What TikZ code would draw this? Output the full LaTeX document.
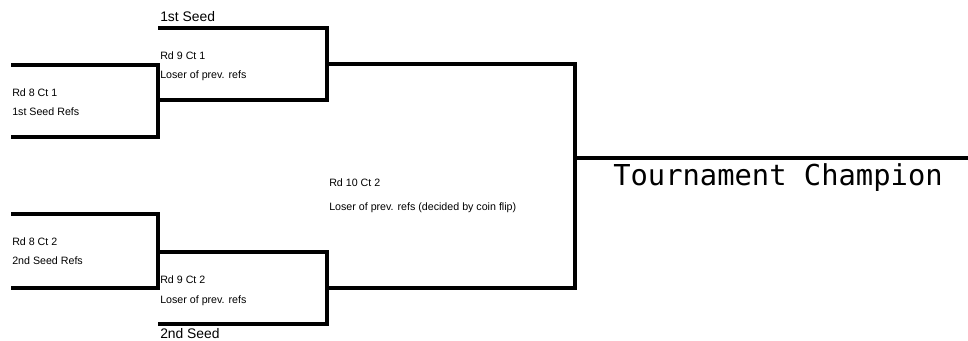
\documentclass[tikz,border=0pt]{standalone}
\usepackage{fontspec}
\setmainfont{Liberation Sans}
\newfontfamily\champfont{DejaVu Sans Mono}
\tikzset{
  bline/.style={line width=3pt, line join=miter, line cap=butt},
  lbl/.style={font=\fontsize{8pt}{9.6pt}\selectfont, anchor=base west, inner sep=0pt},
  seed/.style={font=\fontsize{10.4pt}{12pt}\selectfont, anchor=base west, inner sep=0pt},
  champ/.style={font=\champfont\fontsize{21.6pt}{24pt}\selectfont, anchor=base west, inner sep=0pt},
}

\begin{document}
\begin{tikzpicture}[x=0.75pt, y=-0.75pt]
  \useasboundingbox (0,0) rectangle (968,340);
  % round 8
  \coordinate (r8a-t) at (11,65);  \coordinate (r8a-b) at (11,137);
  \coordinate (r8b-t) at (11,214); \coordinate (r8b-b) at (11,288);
  % round 9
  \coordinate (r9a-t) at (158,28);  \coordinate (r9a-b) at (158,100);
  \coordinate (r9b-t) at (158,252); \coordinate (r9b-b) at (158,324);
  % round 10 and champion
  \coordinate (r10-t) at (327,64); \coordinate (r10-b) at (327,288);
  \coordinate (champ-l) at (575,157.5); \coordinate (champ-r) at (968,157.5);

  \draw[bline] (r8a-t) -- (158,65) -- (158,137) -- (r8a-b);
  \draw[bline] (r8b-t) -- (158,214) -- (158,288) -- (r8b-b);
  \draw[bline] (r9a-t) -- (327,28) -- (327,100) -- (r9a-b);
  \draw[bline] (r9b-t) -- (327,252) -- (327,324) -- (r9b-b);
  \draw[bline] (r10-t) -- (575,64) -- (575,288) -- (r10-b);
  \draw[bline] (champ-l) -- (champ-r);

  % labels
  \node[seed] (seed1) at (160,21) {1st Seed};
  \node[seed] (seed2) at (160,338) {2nd Seed};
  \node[lbl] (r9a-rd) at (160,59) {Rd 9 Ct 1};
  \node[lbl] (r9a-who) at (160,78) {Loser of prev. refs};
  \node[lbl] (r8a-rd) at (12,96) {Rd 8 Ct 1};
  \node[lbl] (r8a-who) at (12,115) {1st Seed Refs};
  \node[lbl] (r8b-rd) at (12,245) {Rd 8 Ct 2};
  \node[lbl] (r8b-who) at (12,264) {2nd Seed Refs};
  \node[lbl] (r9b-rd) at (160,283) {Rd 9 Ct 2};
  \node[lbl] (r9b-who) at (160,303) {Loser of prev. refs};
  \node[lbl] (r10-rd) at (329,186) {Rd 10 Ct 2};
  \node[lbl] (r10-who) at (329,210) {Loser of prev. refs (decided by coin flip)};
  \node[champ] (winner) at (613,185) {Tournament Champion};
\end{tikzpicture}
\end{document}
